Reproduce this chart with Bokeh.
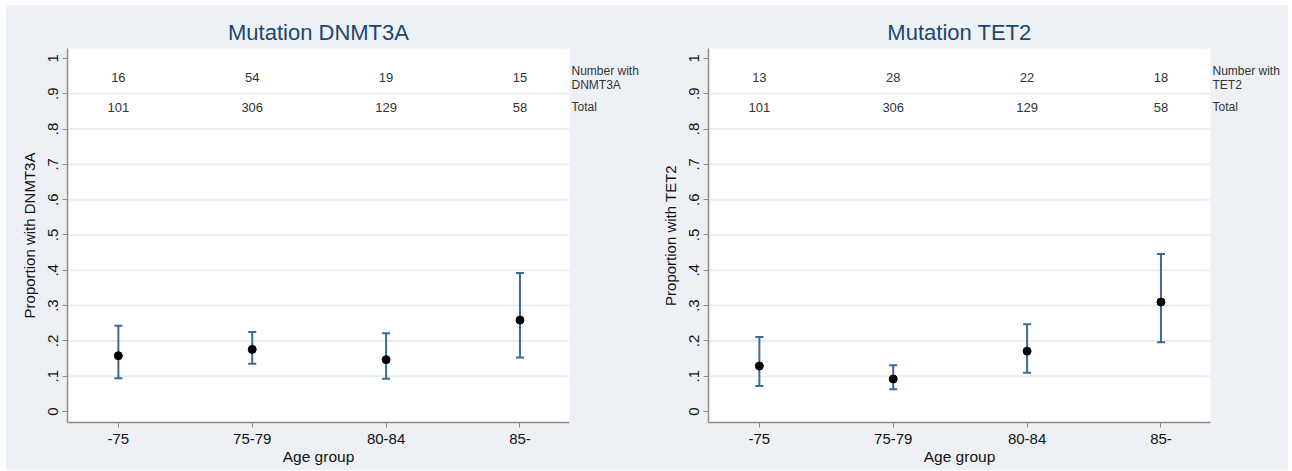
from bokeh.plotting import figure
from bokeh.layouts import row
from bokeh.models import (Range1d, FixedTicker, Whisker, ColumnDataSource,
                          TeeHead, Span, LinearAxis)
from bokeh.embed import file_html
from bokeh.resources import INLINE

# Age groups and group sizes
age_groups = ["-75", "75-79", "80-84", "85-"]
totals = [101, 306, 129, 58]

# DNMT3A: carriers, proportion and 95% CI
dnmt3a_n = [16, 54, 19, 15]
dnmt3a_prop = [0.158, 0.176, 0.147, 0.259]
dnmt3a_lo = [0.094, 0.135, 0.093, 0.153]
dnmt3a_hi = [0.243, 0.225, 0.222, 0.392]

# TET2: carriers, proportion and 95% CI
tet2_n = [13, 28, 22, 18]
tet2_prop = [0.129, 0.092, 0.171, 0.310]
tet2_lo = [0.072, 0.063, 0.110, 0.196]
tet2_hi = [0.211, 0.131, 0.247, 0.446]

y_ticks = [0, 0.1, 0.2, 0.3, 0.4, 0.5, 0.6, 0.7, 0.8, 0.9, 1.0]
y_tick_labels = ["0", ".1", ".2", ".3", ".4", ".5", ".6", ".7", ".8", ".9", "1"]
grid_levels = [0.1, 0.2, 0.3, 0.4, 0.5, 0.6, 0.7, 0.8, 0.9]

# y positions of the count rows printed above the data
row_with_y = 0.945
row_total_y = 0.861

FONT = "Liberation Sans"
BG = "#EDF1F6"
TITLE_C = "#1A476F"
BAR_C = "#3D6A94"
AXIS_C = "#8C8C8C"
GRID_C = "#E8EFF3"


def panel(gene, n_with, prop, lo, hi):
    xs = list(range(1, len(age_groups) + 1))
    p = figure(width=641, height=465,
               x_range=Range1d(0.62, 4.37), y_range=Range1d(-0.031, 1.028),
               output_backend="svg", toolbar_location=None,
               min_border_left=61, min_border_right=78,
               min_border_top=43, min_border_bottom=48,
               background_fill_color="white", border_fill_color=BG,
               outline_line_color=None)

    p.title.text = "Mutation " + gene
    p.title.align = "center"
    p.title.text_font = FONT
    p.title.text_font_size = "22px"
    p.title.text_font_style = "normal"
    p.title.text_color = TITLE_C
    p.title.standoff = 8

    p.xgrid.visible = False
    p.ygrid.visible = False
    for g in grid_levels:
        p.add_layout(Span(location=g, dimension="width", line_color=GRID_C,
                          line_width=2, level="underlay"))

    # x axis
    xa = p.xaxis[0]
    xa.ticker = FixedTicker(ticks=xs)
    xa.major_label_overrides = {x: lab for x, lab in zip(xs, age_groups)}
    xa.minor_tick_line_color = None
    xa.axis_line_color = AXIS_C
    xa.axis_line_width = 1.5
    xa.major_tick_line_color = AXIS_C
    xa.major_tick_out = 5
    xa.major_tick_in = 0
    xa.major_label_text_font = FONT
    xa.major_label_text_font_size = "15px"
    xa.major_label_text_color = "#111111"
    xa.major_label_standoff = 6
    xa.axis_label = "Age group"
    xa.axis_label_text_font = FONT
    xa.axis_label_text_font_size = "15.5px"
    xa.axis_label_text_font_style = "normal"
    xa.axis_label_text_color = "#111111"
    xa.axis_label_standoff = 1

    # y axis
    ya = p.yaxis[0]
    ya.ticker = FixedTicker(ticks=y_ticks)
    ya.major_label_overrides = {t: lab for t, lab in zip(y_ticks, y_tick_labels)}
    ya.major_label_orientation = "vertical"
    ya.minor_tick_line_color = None
    ya.axis_line_color = AXIS_C
    ya.axis_line_width = 1.5
    ya.major_tick_line_color = AXIS_C
    ya.major_tick_out = 5
    ya.major_tick_in = 0
    ya.major_label_text_font = FONT
    ya.major_label_text_font_size = "15px"
    ya.major_label_text_color = "#111111"
    ya.major_label_standoff = 4
    ya.axis_label = "Proportion with " + gene
    ya.axis_label_text_font = FONT
    ya.axis_label_text_font_size = "15px"
    ya.axis_label_text_font_style = "normal"
    ya.axis_label_text_color = "#111111"
    ya.axis_label_standoff = 8

    # row captions to the right of the plot area
    cap = LinearAxis(ticker=FixedTicker(ticks=[row_with_y, row_total_y]),
                     major_label_overrides={row_with_y: "Number with\n" + gene,
                                            row_total_y: "Total"},
                     axis_line_color=None, major_tick_line_color=None,
                     major_tick_out=0, major_tick_in=0,
                     minor_tick_line_color=None, minor_tick_out=0, minor_tick_in=0,
                     major_label_standoff=2,
                     major_label_text_font=FONT,
                     major_label_text_font_size="12px",
                     major_label_text_color="#333333",
                     major_label_text_line_height=1.0)
    p.add_layout(cap, "right")

    src = ColumnDataSource(dict(x=xs, prop=prop, lo=lo, hi=hi,
                                n=[str(v) for v in n_with],
                                tot=[str(v) for v in totals],
                                yw=[row_with_y] * len(xs),
                                yt=[row_total_y] * len(xs)))

    whisk = Whisker(base="x", lower="lo", upper="hi", source=src,
                    line_color=BAR_C, line_width=2,
                    lower_head=TeeHead(size=8, line_color=BAR_C, line_width=2),
                    upper_head=TeeHead(size=8, line_color=BAR_C, line_width=2))
    p.add_layout(whisk)
    p.scatter("x", "prop", source=src, size=8, color="black")

    # count rows
    p.text("x", "yw", text="n", source=src, text_align="center",
           text_baseline="middle", text_font_size="13px", text_color="#333333",
           text_font={"value": FONT})
    p.text("x", "yt", text="tot", source=src, text_align="center",
           text_baseline="middle", text_font_size="13px", text_color="#333333",
           text_font={"value": FONT})
    return p


p1 = panel("DNMT3A", dnmt3a_n, dnmt3a_prop, dnmt3a_lo, dnmt3a_hi)
p2 = panel("TET2", tet2_n, tet2_prop, tet2_lo, tet2_hi)

layout = row(p1, p2, margin=(5, 0, 0, 6), spacing=0,
             styles={"background-color": BG})

open("out.html", "w").write(file_html(layout, INLINE))
